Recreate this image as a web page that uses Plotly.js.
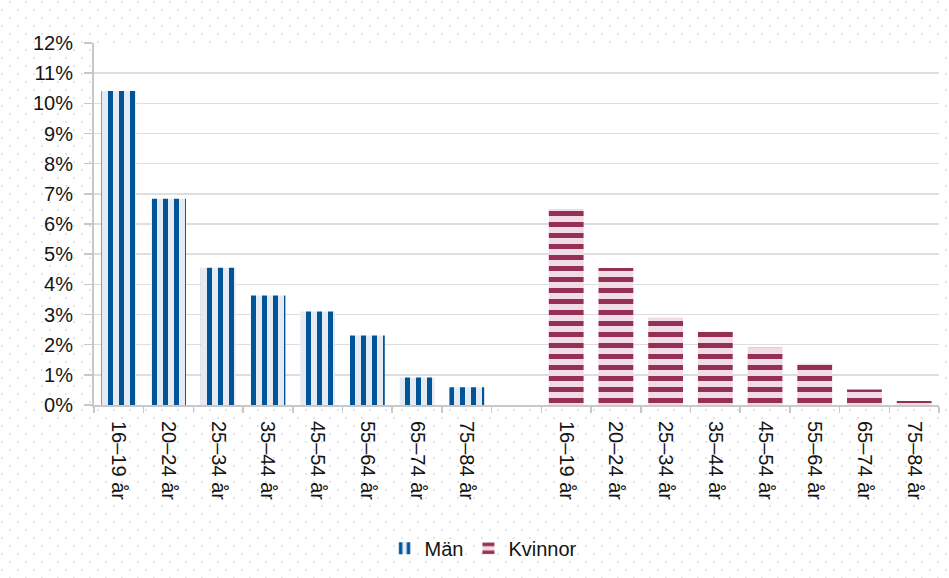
<!DOCTYPE html>
<html>
<head>
<meta charset="utf-8">
<script src="https://cdn.plot.ly/plotly-3.0.1.min.js"></script>
<style>
  html, body { margin: 0; padding: 0; }
  body {
    width: 949px; height: 578px; overflow: hidden;
    background-color: #ffffff;
    background-image: url("data:image/svg+xml;utf8,<svg xmlns='http://www.w3.org/2000/svg' width='16' height='16'><rect x='8' y='0' width='2' height='2' fill='%23e3e3eb'/><rect x='0' y='8' width='2' height='2' fill='%23e3e3eb'/></svg>");
    background-position: 1px 1px;
  }
  #chart { width: 949px; height: 578px; }
</style>
</head>
<body>
<div id="chart"></div>
<script>
// ---- data ----
const ageGroups = ['16–19 år', '20–24 år', '25–34 år', '35–44 år', '45–54 år', '55–64 år', '65–74 år', '75–84 år'];
const menShare   = [0.1041, 0.0684, 0.0455, 0.0363, 0.0310, 0.0230, 0.0091, 0.0059];
const womenShare = [0.0650, 0.0454, 0.0290, 0.0243, 0.0190, 0.0137, 0.0051, 0.0013];
const seriesNames = ['Män', 'Kvinnor'];

// unique category keys, relabelled by ticktext
const menKeys = ageGroups.map(a => 'M|' + a);
const womenKeys = ageGroups.map(a => 'K|' + a);
const gapKey = 'gap';
const catOrder = [...menKeys, gapKey, ...womenKeys];
const catText = [...ageGroups, '', ...ageGroups];

const font = { family: 'Liberation Sans, Arial, Helvetica, sans-serif', size: 20, color: '#141414' };

const traces = [
  {
    type: 'bar', name: seriesNames[0], x: menKeys, y: menShare,
    marker: { color: '#005598', line: { width: 0 },
      pattern: { shape: '|', fgcolor: '#005598', bgcolor: '#e6ebf3', size: 11, solidity: 0.45, fillmode: 'replace' } },
    hoverinfo: 'skip'
  },
  {
    type: 'bar', name: seriesNames[1], x: womenKeys, y: womenShare,
    marker: { color: '#952f55', line: { width: 0 },
      pattern: { shape: '-', fgcolor: '#952f55', bgcolor: '#f1dbe4', size: 11, solidity: 0.45, fillmode: 'replace' } },
    hoverinfo: 'skip'
  }
];

const layout = {
  width: 949, height: 578,
  margin: { l: 94, r: 10, t: 43, b: 172.5 },
  paper_bgcolor: 'rgba(0,0,0,0)',
  plot_bgcolor: '#ffffff',
  font: font,
  barmode: 'group',
  bargap: 0.3,
  showlegend: true,
  legend: {
    orientation: 'h', x: 0.461, xanchor: 'center', y: -0.396, yanchor: 'middle',
    font: font, bgcolor: 'rgba(0,0,0,0)', itemwidth: 30, traceorder: 'normal'
  },
  xaxis: {
    type: 'category', categoryorder: 'array', categoryarray: catOrder,
    tickmode: 'array', tickvals: catOrder, ticktext: catText,
    tickson: 'boundaries', ticks: 'outside', ticklen: 6, tickwidth: 1.5, tickcolor: '#c8c8c8',
    tickangle: 90, showgrid: false, showline: true, linecolor: '#c8c8c8', linewidth: 2,
    range: [-0.5, 16.5], fixedrange: true, automargin: false, ticklabelstandoff: 10
  },
  yaxis: {
    range: [0, 0.12], dtick: 0.01, tick0: 0, tickformat: '.0%',
    ticks: 'outside', ticklen: 8, tickwidth: 1.5, tickcolor: '#c8c8c8',
    showgrid: true, gridcolor: '#dedede', gridwidth: 1.5,
    showline: true, linecolor: '#c8c8c8', linewidth: 2,
    zeroline: false, fixedrange: true, automargin: false, ticklabelstandoff: 7
  }
};

Plotly.newPlot('chart', traces, layout, { staticPlot: true, displayModeBar: false });
</script>
</body>
</html>
